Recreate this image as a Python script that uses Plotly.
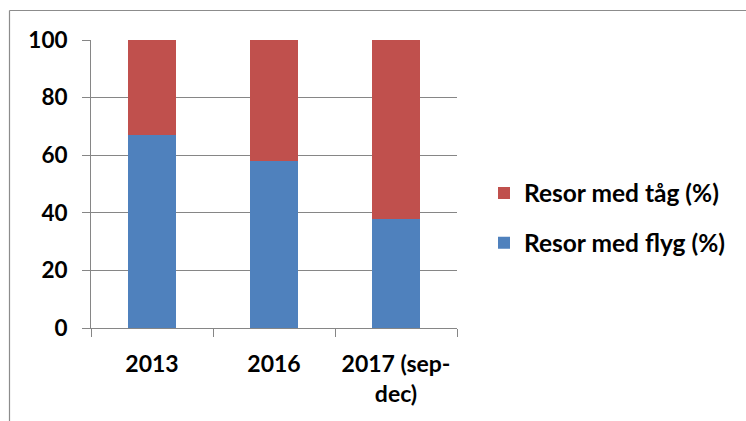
import plotly.graph_objects as go

categories = ["2013", "2016", "2017 (sep-<br>dec)"]
flyg = [67, 58, 38]
tag = [33, 42, 62]
series_names = ["Resor med flyg (%)", "Resor med tåg (%)"]
y_ticks = [0, 20, 40, 60, 80, 100]

FONT = "Lato"
BLUE = "#4F81BD"
RED = "#C0504D"
GRID = "#868686"

fig = go.Figure()
fig.add_trace(go.Bar(x=categories, y=flyg, name=series_names[0], marker_color=BLUE,
                     marker_line_width=0, legendgroup="flyg", legendrank=2))
fig.add_trace(go.Bar(x=categories, y=tag, name=series_names[1], marker_color=RED,
                     marker_line_width=0, legendgroup="tag", legendrank=1))

L, R, T, B = 91, 746 - 457, 40, 421 - 328
pw, ph = 746 - L - R, 421 - T - B

def px2x(p):
    return (p - L) / pw

def px2y(p):
    return (421 - B - p) / ph

fig.update_layout(
    width=746, height=421,
    margin=dict(l=L, r=R, t=T, b=B),
    barmode="stack",
    bargap=0.6,
    plot_bgcolor="white",
    paper_bgcolor="white",
    font=dict(family=FONT, size=22, color="black", weight="bold"),
    showlegend=True,
    legend=dict(
        x=px2x(484), xanchor="left",
        y=px2y(218), yanchor="middle",
        traceorder="grouped",
        tracegroupgap=15,
        font=dict(family=FONT, size=24.5, color="black", weight="bold"),
        bgcolor="rgba(0,0,0,0)",
    ),
    xaxis=dict(
        type="category",
        showline=True, linecolor=GRID, linewidth=1,
        ticks="outside", tickson="boundaries", ticklen=8, tickcolor=GRID, tickwidth=1,
        showgrid=False,
        ticklabelstandoff=15,
        tickfont=dict(family=FONT, size=23, color="black", weight="bold"),
    ),
    yaxis=dict(
        range=[0, 100],
        tickvals=y_ticks,
        showline=True, linecolor=GRID, linewidth=1,
        ticks="outside", ticklen=8, tickcolor=GRID, tickwidth=1,
        showgrid=True, gridcolor=GRID, gridwidth=1,
        zeroline=False,
        ticklabelstandoff=10,
        tickfont=dict(family=FONT, size=22.5, color="black", weight="bold"),
    ),
    shapes=[
        dict(type="line", xref="paper", yref="paper",
             x0=px2x(9.5), x1=px2x(760), y0=px2y(10.5), y1=px2y(10.5),
             line=dict(color="#8c8c8c", width=1.2)),
        dict(type="line", xref="paper", yref="paper",
             x0=px2x(9.5), x1=px2x(9.5), y0=px2y(10.5), y1=px2y(430),
             line=dict(color="#8c8c8c", width=1.2)),
    ],
)

fig.write_html("out.html")
